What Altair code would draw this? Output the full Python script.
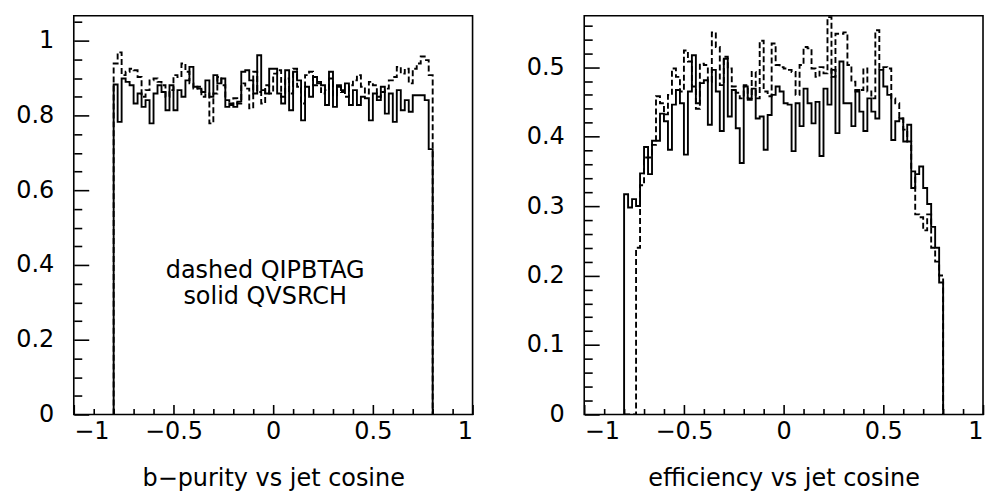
import altair as alt
import pandas as pd

# ---------------- data ----------------
BIN_LO = -0.8
BIN_W = 0.02

purity_dashed = [0.939, 0.969, 0.908, 0.917, 0.925, 0.921, 0.903, 0.850, 0.868, 0.894,
                 0.899, 0.890, 0.881, 0.850, 0.868, 0.908, 0.903, 0.939, 0.917, 0.886,
                 0.872, 0.877, 0.850, 0.859, 0.779, 0.859, 0.903, 0.881, 0.841, 0.828,
                 0.846, 0.832, 0.886, 0.872, 0.819, 0.917, 0.863, 0.832, 0.881, 0.859,
                 0.912, 0.921, 0.850, 0.899, 0.859, 0.925, 0.877, 0.832, 0.908, 0.917,
                 0.881, 0.890, 0.859, 0.868, 0.899, 0.854, 0.877, 0.863, 0.850, 0.881,
                 0.894, 0.908, 0.877, 0.859, 0.890, 0.881, 0.850, 0.863, 0.872, 0.894,
                 0.903, 0.930, 0.912, 0.925, 0.886, 0.925, 0.939, 0.958, 0.948, 0.908]

purity_solid = [0.883, 0.783, 0.899, 0.890, 0.881, 0.832, 0.859, 0.823, 0.841, 0.779,
                0.859, 0.881, 0.863, 0.814, 0.881, 0.814, 0.868, 0.850, 0.894, 0.930,
                0.877, 0.872, 0.863, 0.894, 0.850, 0.908, 0.886, 0.899, 0.823, 0.832,
                0.823, 0.837, 0.917, 0.921, 0.894, 0.859, 0.961, 0.868, 0.859, 0.925,
                0.925, 0.859, 0.832, 0.921, 0.814, 0.917, 0.894, 0.787, 0.877, 0.850,
                0.903, 0.886, 0.881, 0.828, 0.917, 0.823, 0.881, 0.868, 0.886, 0.828,
                0.868, 0.828, 0.850, 0.846, 0.787, 0.859, 0.841, 0.877, 0.805, 0.859,
                0.783, 0.868, 0.814, 0.841, 0.810, 0.854, 0.854, 0.854, 0.841, 0.710]

eff_dashed = [0.0, 0.0, 0.0, 0.240, 0.330, 0.370, 0.370, 0.388, 0.458, 0.448,
              0.432, 0.460, 0.498, 0.486, 0.465, 0.524, 0.508, 0.472, 0.440, 0.505,
              0.503, 0.479, 0.550, 0.529, 0.474, 0.515, 0.498, 0.472, 0.463, 0.455,
              0.474, 0.455, 0.493, 0.455, 0.538, 0.465, 0.458, 0.534, 0.503, 0.500,
              0.498, 0.496, 0.493, 0.460, 0.503, 0.529, 0.527, 0.498, 0.486, 0.500,
              0.491, 0.572, 0.486, 0.548, 0.548, 0.550, 0.503, 0.479, 0.465, 0.467,
              0.498, 0.465, 0.455, 0.553, 0.498, 0.500, 0.498, 0.455, 0.448, 0.426,
              0.410, 0.393, 0.350, 0.288, 0.284, 0.265, 0.288, 0.240, 0.220, 0.200]

eff_solid = [0.317, 0.298, 0.310, 0.300, 0.347, 0.385, 0.346, 0.394, 0.394, 0.433,
             0.422, 0.381, 0.446, 0.467, 0.448, 0.374, 0.465, 0.517, 0.448, 0.477,
             0.481, 0.417, 0.496, 0.465, 0.408, 0.512, 0.429, 0.467, 0.412, 0.362,
             0.472, 0.453, 0.469, 0.426, 0.429, 0.381, 0.431, 0.460, 0.472, 0.465,
             0.448, 0.446, 0.379, 0.448, 0.415, 0.469, 0.448, 0.419, 0.450, 0.372,
             0.469, 0.446, 0.496, 0.405, 0.508, 0.448, 0.448, 0.415, 0.467, 0.436,
             0.408, 0.455, 0.436, 0.426, 0.496, 0.472, 0.460, 0.395, 0.422, 0.426,
             0.393, 0.417, 0.326, 0.346, 0.357, 0.326, 0.303, 0.270, 0.240, 0.190]

series_names = ["QIPBTAG", "QVSRCH"]   # dashed, solid

x_major_ticks = [-1, -0.5, 0, 0.5, 1]
x_minor_ticks = [-0.9, -0.8, -0.7, -0.6, -0.4, -0.3, -0.2, -0.1,
                 0.1, 0.2, 0.3, 0.4, 0.6, 0.7, 0.8, 0.9]

left_y_major = [0, 0.2, 0.4, 0.6, 0.8, 1]
left_y_minor = [0.05, 0.1, 0.15, 0.25, 0.3, 0.35, 0.45, 0.5, 0.55,
                0.65, 0.7, 0.75, 0.85, 0.9, 0.95, 1.05]
right_y_major = [0, 0.1, 0.2, 0.3, 0.4, 0.5]
right_y_minor = [0.02, 0.04, 0.06, 0.08, 0.12, 0.14, 0.16, 0.18,
                 0.22, 0.24, 0.26, 0.28, 0.32, 0.34, 0.36, 0.38,
                 0.42, 0.44, 0.46, 0.48, 0.52, 0.54, 0.56]

note_text = ["dashed QIPBTAG", "solid QVSRCH"]
note_x = [-0.04, -0.04]
note_y = [0.385, 0.315]

FONT = "DejaVu Sans"
FS = 24


def outline(values, name):
    rows = [{"x": BIN_LO, "y": 0.0, "series": name, "k": 0}]
    for i, v in enumerate(values):
        rows.append({"x": BIN_LO + i * BIN_W, "y": v, "series": name, "k": i + 1})
    n = len(values)
    rows.append({"x": BIN_LO + n * BIN_W, "y": values[-1], "series": name, "k": n + 1})
    rows.append({"x": BIN_LO + n * BIN_W, "y": 0.0, "series": name, "k": n + 2})
    return rows


def axis_common():
    return dict(grid=False, domain=False, tickColor="black", tickWidth=1.6,
                labelColor="black", labelFont=FONT, labelFontSize=FS)


def panel(dashed, solid, ymax, ymaj, ymin, title, notes=False):
    df = pd.DataFrame(outline(dashed, series_names[0]) + outline(solid, series_names[1]))
    xs = alt.Scale(domain=[-1, 1], nice=False, zero=False)
    ys = alt.Scale(domain=[0, ymax], nice=False, zero=False)

    x_major = alt.Axis(orient="bottom", values=x_major_ticks, format="~g",
                       tickSize=10, offset=-10, labelPadding=5,
                       title=title, titleFont=FONT, titleFontSize=FS,
                       titleFontWeight="normal", titleColor="black", titlePadding=23,
                       **axis_common())
    y_major = alt.Axis(orient="left", values=ymaj, format="~g",
                       tickSize=15, offset=-15, labelPadding=20, title=None,
                       **axis_common())
    x_minor = alt.Axis(orient="bottom", values=x_minor_ticks, tickSize=6, offset=-6,
                       labels=False, title=None, grid=False, domain=False,
                       tickColor="black", tickWidth=1.6)
    y_minor = alt.Axis(orient="left", values=ymin, tickSize=8, offset=-8,
                       labels=False, title=None, grid=False, domain=False,
                       tickColor="black", tickWidth=1.6)

    lines = alt.Chart(df).mark_line(interpolate="step-after", color="black",
                                    strokeWidth=1.9, clip=True).encode(
        x=alt.X("x:Q", scale=xs, axis=x_major),
        y=alt.Y("y:Q", scale=ys, axis=y_major),
        strokeDash=alt.StrokeDash("series:N",
                                  scale=alt.Scale(domain=series_names,
                                                  range=[[6, 3], [1, 0]]),
                                  legend=None),
        detail="series:N",
        order=alt.Order("k:Q"),
    )
    minor = alt.Chart(df).mark_point(opacity=0).encode(
        x=alt.X("x:Q", scale=xs, axis=x_minor),
        y=alt.Y("y:Q", scale=ys, axis=y_minor),
    )
    layers = [lines, minor]
    if notes:
        ndf = pd.DataFrame({"x": note_x, "y": note_y, "t": note_text})
        txt = alt.Chart(ndf).mark_text(font=FONT, fontSize=FS, color="black",
                                       align="center", baseline="middle").encode(
            x=alt.X("x:Q", scale=xs, axis=None),
            y=alt.Y("y:Q", scale=ys, axis=None),
            text="t:N",
        )
        layers.append(txt)
    return alt.layer(*layers).resolve_axis(x="independent", y="independent").properties(
        width=400, height=400)


left = panel(purity_dashed, purity_solid, 1.067, left_y_major, left_y_minor,
             "b\u2212purity vs jet cosine", notes=True)
right = panel(eff_dashed, eff_solid, 0.574, right_y_major, right_y_minor,
              "efficiency vs jet cosine")

chart = alt.hconcat(left, right, spacing=51).properties(
    padding={"left": 15, "top": 12, "right": 0, "bottom": 0},
    background="white",
).configure_view(stroke="black", strokeWidth=1.6)

chart.save("out.html", embed_options={"renderer": "svg", "actions": False})
